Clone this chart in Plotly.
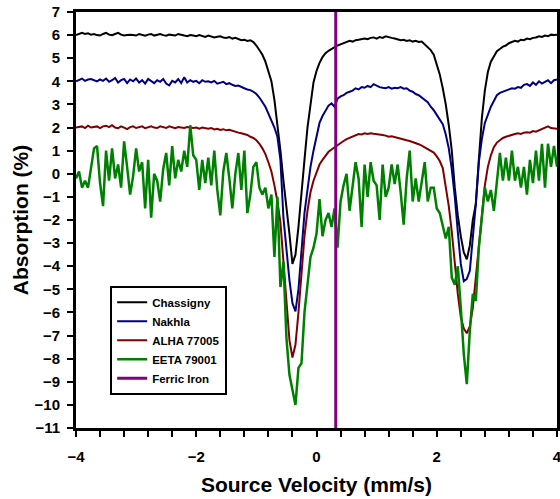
import numpy as np
import plotly.graph_objects as go

# Source velocity grid (mm/s), -4.00 .. 4.00 in 0.05 steps
velocity = np.round(np.arange(-4.0, 4.0001, 0.05), 2)

chassigny = [
    6.0, 6.05, 6.1, 6.05, 6.08, 6.02, 6.05, 6.0, 5.98, 6.05,
    6.1, 6.02, 6.0, 6.05, 6.1, 6.02, 5.98, 6.0, 6.02, 6.0,
    5.98, 6.05, 6.0, 5.97, 6.02, 6.05, 5.98, 6.0, 6.05, 6.0,
    5.97, 6.02, 6.0, 5.98, 6.05, 6.0, 5.98, 5.95, 6.0, 5.98,
    5.95, 6.0, 5.95, 5.92, 5.98, 5.95, 5.9, 5.93, 5.95, 5.9,
    5.88, 5.92, 5.85, 5.88, 5.82, 5.78, 5.8, 5.75, 5.78, 5.7,
    5.55, 5.35, 5.15, 4.85, 4.45, 4.0, 3.2, 2.2, 1.0, -0.3,
    -1.4, -2.6, -3.9, -3.5, -2.3, -1.0, 0.6, 2.0, 3.1, 3.95,
    4.45, 4.8, 5.05, 5.22, 5.32, 5.4, 5.48, 5.55, 5.6, 5.65,
    5.7, 5.75, 5.72, 5.78, 5.8, 5.82, 5.85, 5.82, 5.88, 5.9,
    5.85, 5.92, 5.88, 5.95, 5.9, 5.88, 5.85, 5.82, 5.78, 5.8,
    5.75, 5.78, 5.72, 5.75, 5.7, 5.72, 5.6, 5.5, 5.35, 5.15,
    4.75, 4.3, 3.7, 3.0, 2.1, 1.0, -0.6, -1.8, -2.7, -3.4,
    -3.7, -3.1, -2.0, -1.3, 0.6, 2.4, 3.6, 4.4, 4.85, 5.1,
    5.3, 5.4, 5.5, 5.55, 5.65, 5.7, 5.75, 5.72, 5.8, 5.78,
    5.85, 5.82, 5.88, 5.9, 5.95, 5.92, 5.98, 5.95, 6.02, 6.0,
    6.02,
]

nakhla = [
    4.0, 4.05, 4.12, 4.02, 4.08, 4.1, 4.05, 4.0, 4.08, 4.02,
    4.12, 3.98, 4.05, 4.15, 3.95, 4.05, 4.1, 3.92, 4.08, 4.0,
    4.12, 3.95, 4.05, 3.9, 4.1, 4.0, 3.92, 4.05, 3.98, 4.1,
    3.9, 3.82, 4.02, 3.95, 4.1, 3.92, 4.18, 3.95, 4.05, 3.98,
    4.02, 3.92, 4.05, 3.98, 4.0, 3.95, 4.02, 3.9, 3.95, 3.98,
    3.88, 3.92, 3.85, 3.8, 3.82, 3.75, 3.7, 3.65, 3.62, 3.55,
    3.45, 3.3, 3.1, 2.9, 2.6, 2.3, 2.0, 1.6, 0.6, -1.9,
    -3.4, -4.6, -5.6, -5.95, -5.0, -3.2, -1.7, -0.7, 0.3, 1.0,
    1.6, 2.2, 2.5, 2.75, 2.95, 3.05, 2.9, 3.25, 3.35, 3.4,
    3.5, 3.55, 3.6, 3.7, 3.65, 3.75, 3.72, 3.8, 3.75, 3.88,
    3.8, 3.75, 3.72, 3.7, 3.75, 3.68, 3.72, 3.7, 3.75, 3.68,
    3.7, 3.6, 3.55, 3.45, 3.4, 3.3, 3.2, 3.1, 2.9, 2.75,
    2.55, 2.35, 2.15, 1.7, 1.1, 0.2, -1.0, -2.5, -3.9, -4.65,
    -4.55, -4.2, -2.8, -1.3, 0.5, 1.5, 2.2, 2.6, 2.9, 3.15,
    3.4, 3.5, 3.55, 3.62, 3.65, 3.7, 3.68, 3.75, 3.72, 3.85,
    3.88, 3.8, 3.95, 3.85, 4.0, 3.9, 3.98, 4.05, 3.92, 4.05,
    4.08,
]

alha_77005 = [
    2.0, 2.02, 2.05, 1.98, 2.08, 2.0, 2.03, 2.05, 1.98, 2.05,
    2.08, 2.02, 2.1, 2.0, 1.97, 2.05, 2.0, 1.93, 2.02, 2.05,
    1.98, 2.0, 2.05, 1.97, 2.02, 2.05, 2.0, 1.98, 2.05, 2.0,
    1.98, 2.05, 2.0, 1.97, 2.02, 2.0, 1.98, 2.02, 2.0, 1.98,
    2.0, 1.95, 2.0, 1.98, 1.95, 1.98, 1.92, 1.95, 1.9, 1.93,
    1.88, 1.9, 1.85, 1.82, 1.78, 1.75, 1.72, 1.68, 1.6, 1.55,
    1.45, 1.3, 1.1, 0.85, 0.5, 0.1, -0.5, -1.2, -2.1, -3.8,
    -5.8, -7.2, -7.95, -7.4, -6.0, -4.2, -2.7, -1.6, -0.8, -0.3,
    0.1, 0.4, 0.6, 0.8, 0.95, 1.05, 1.15, 1.25, 1.35, 1.42,
    1.5, 1.55, 1.6, 1.68, 1.72, 1.7, 1.75, 1.72, 1.75, 1.73,
    1.72, 1.7, 1.68, 1.65, 1.6, 1.62, 1.58, 1.55, 1.52, 1.48,
    1.45, 1.42, 1.38, 1.32, 1.28, 1.22, 1.15, 1.08, 1.0, 0.92,
    0.75, 0.55, 0.25, -0.5, -1.4, -2.5, -4.0, -5.2, -6.2, -6.7,
    -6.9, -6.6, -5.8, -4.5, -3.0, -1.6, -0.5, 0.3, 0.8, 1.15,
    1.35, 1.45, 1.55, 1.6, 1.65, 1.7, 1.72, 1.75, 1.72, 1.78,
    1.8, 1.78, 1.85, 1.82, 1.88, 1.95, 2.0, 2.05, 1.98, 1.95,
    1.95,
]

eeta_79001 = [
    -0.2, 0.1, -0.6, -0.3, -0.6, 0.2, 1.1, 1.2, -0.4, -1.4,
    1.0, -0.3, 1.1, -0.2, 0.4, -0.6, 1.4, 0.3, -0.9, -0.1,
    1.1, 0.1, 0.5, -1.5, 0.6, -1.9, 0.0, -0.3, -1.2, 0.2,
    0.9, -0.5, 1.2, -0.2, 0.6, 0.1, 1.0, 0.3, 2.1, 0.8,
    0.6, -0.7, 0.6, -0.4, 0.7, -0.5, 1.0, -0.7, -1.8, 0.1,
    0.9, -0.2, -1.5, 0.0, 0.9, -0.7, 1.0, -1.7, -0.9, 0.3,
    0.5, -0.6, -0.9, -0.6, -1.5, -0.9, -3.6, -1.0, -4.9, -3.8,
    -7.1, -8.7, -9.3, -10.0, -8.4, -8.2, -6.0, -4.8, -3.6, -3.2,
    -2.6, -1.1, -2.7, -2.0, -1.7, -2.3, -1.5, -3.2, -1.2, -0.5,
    0.0, -1.6, -0.4, 0.5, -0.2, -2.3, 0.4, -1.0, 0.5, -0.3,
    -0.5, -2.0, 0.4, -1.0, -0.6, 0.4, -0.45, 0.4, -0.8, -2.2,
    -0.2, 1.0, -1.2, -0.2, -1.2, -0.3, 0.5, -1.2, -0.6, -0.6,
    -1.5, -1.7, -2.2, -2.8, -2.3, -4.5, -4.8, -4.0, -5.8, -7.8,
    -9.1, -6.8, -5.2, -5.5, -3.2, -1.9, -0.6, -1.2, -0.7, -1.6,
    -0.2, 0.9, -0.3, 0.7, -0.3, 1.0, -0.3, 0.3, -0.6, 0.3,
    -0.9, 0.6, -0.4, 1.0, -0.3, 1.3, -0.6, 1.3, 0.3, 1.2,
    0.3,
]

# Ferric iron reference velocity (mm/s) and the axis spans
ferric_velocity = 0.32
y_range = [-11, 7]
x_range = [-4, 4]

series = [
    ("Chassigny", chassigny, "#000000", 2),
    ("Nakhla", nakhla, "#000080", 2),
    ("ALHA 77005", alha_77005, "#800000", 2),
    ("EETA 79001", eeta_79001, "#008000", 2.5),
]

FONT = "Arial, Liberation Sans, sans-serif"

fig = go.Figure()
for name, vals, col, w in series:
    assert len(vals) == len(velocity), name
    fig.add_trace(go.Scatter(
        x=velocity, y=vals, mode="lines", name=name,
        line=dict(color=col, width=w),
    ))

fig.add_trace(go.Scatter(
    x=[ferric_velocity, ferric_velocity], y=y_range, mode="lines",
    name="Ferric Iron", line=dict(color="#800080", width=3),
))

fig.update_layout(
    width=560, height=499,
    margin=dict(l=76, r=3, t=12, b=71),
    paper_bgcolor="white", plot_bgcolor="white",
    font=dict(family=FONT, color="black"),
    showlegend=True,
    legend=dict(
        x=0.071, y=0.342, xanchor="left", yanchor="top",
        bgcolor="white", bordercolor="black", borderwidth=2,
        font=dict(family=FONT, size=11.5, color="black", weight="bold"),
        tracegroupgap=0, itemwidth=30,
    ),
)

fig.update_xaxes(
    range=x_range, tickmode="linear", tick0=-4, dtick=2,
    ticks="outside", ticklen=6, tickwidth=2, tickcolor="black",
    minor=dict(dtick=0.4, tick0=-4, ticks="outside", ticklen=6, tickwidth=2, tickcolor="black"),
    showline=True, linewidth=3, linecolor="black", mirror=True,
    showgrid=False, zeroline=False, automargin=False,
    tickfont=dict(family=FONT, size=15, color="black", weight="bold"),
    ticklabelstandoff=7, ticklabeloverflow="allow",
    title=dict(text="Source Velocity (mm/s)", standoff=14,
               font=dict(family=FONT, size=21, color="black", weight="bold")),
)
fig.update_yaxes(
    range=y_range, tickmode="linear", tick0=-11, dtick=1,
    ticks="outside", ticklen=6, tickwidth=2, tickcolor="black",
    showline=True, linewidth=3, linecolor="black", mirror=True,
    showgrid=False, zeroline=False, automargin=False,
    tickfont=dict(family=FONT, size=15, color="black", weight="bold"),
    ticklabelstandoff=4,
    title=dict(text="Absorption (%)", standoff=1,
               font=dict(family=FONT, size=21, color="black", weight="bold")),
)

fig.write_html("out.html", config={"displayModeBar": False},
               post_script="document.body.style.margin='0';")
